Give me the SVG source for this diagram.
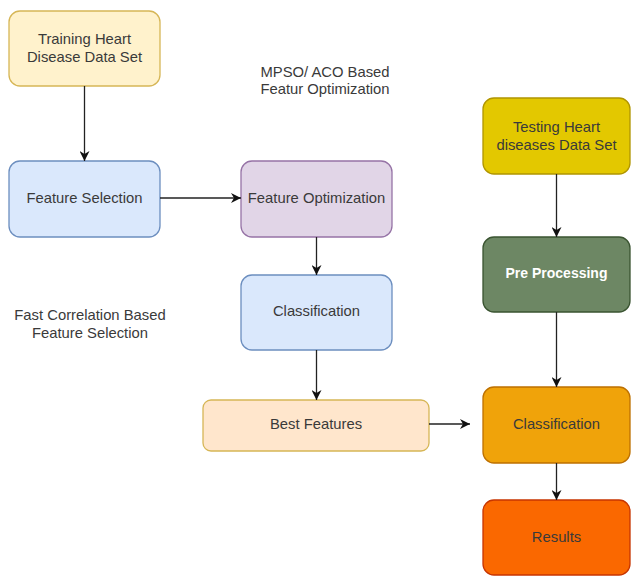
<svg xmlns="http://www.w3.org/2000/svg" width="631" height="576" viewBox="0 0 631 576">
<defs>
<marker id="ah" viewBox="0 0 10 10" refX="10" refY="5" markerWidth="10" markerHeight="10" markerUnits="userSpaceOnUse" orient="auto">
<path d="M0,0 L10,5 L0,10 L3,5 Z" fill="#111"/>
</marker>
<style>
text{font-family:"Liberation Sans",Arial,sans-serif;font-size:14.8px;fill:#3a3a3a;text-anchor:middle;dominant-baseline:central}
.n rect{stroke-width:1.3}
.c line{stroke:#222;stroke-width:1.3;marker-end:url(#ah)}
</style>
</defs>
<rect width="631" height="576" fill="#fff"/>
<g id="training" class="n"><rect x="9" y="11" width="151" height="75" rx="11" fill="#fff2cc" stroke="#d6b656"/><text x="84.5" y="39">Training Heart</text><text x="84.5" y="57">Disease Data Set</text></g>
<g id="featsel" class="n"><rect x="9" y="161" width="151" height="76" rx="11" fill="#dae8fc" stroke="#6c8ebf"/><text x="84.5" y="198">Feature Selection</text></g>
<g id="featopt" class="n"><rect x="241" y="161" width="151" height="76" rx="11" fill="#e1d5e7" stroke="#9673a6"/><text x="316.5" y="198">Feature Optimization</text></g>
<g id="class1" class="n"><rect x="241" y="275" width="151" height="75" rx="11" fill="#dae8fc" stroke="#6c8ebf"/><text x="316.5" y="311">Classification</text></g>
<g id="best" class="n"><rect x="203" y="400" width="226" height="51" rx="8" fill="#ffe6cc" stroke="#d6b656"/><text x="316" y="424">Best Features</text></g>
<g id="testing" class="n"><rect x="483" y="98" width="147" height="76" rx="11" fill="#e3c800" stroke="#b09500"/><text x="556.5" y="127">Testing Heart</text><text x="556.5" y="145">diseases Data Set</text></g>
<g id="preproc" class="n"><rect x="483" y="237" width="147" height="75" rx="11" fill="#6d8764" stroke="#3a5431"/><text x="556.5" y="273" style="fill:#fff;font-weight:bold;font-size:14px">Pre Processing</text></g>
<g id="class2" class="n"><rect x="483" y="387" width="147" height="76" rx="11" fill="#f0a30a" stroke="#bd7000"/><text x="556.5" y="424">Classification</text></g>
<g id="results" class="n"><rect x="483" y="500" width="147" height="75" rx="11" fill="#fa6800" stroke="#c73500"/><text x="556.5" y="537">Results</text></g>
<g id="label-mpso"><text x="325" y="72">MPSO/ ACO Based</text><text x="325" y="89">Featur Optimization</text></g>
<g id="label-fcbf"><text x="90" y="315">Fast Correlation Based</text><text x="90" y="333">Feature Selection</text></g>
<g id="connectors" class="c">
<line x1="84.5" y1="86" x2="84.5" y2="161"/>
<line x1="160" y1="198" x2="241" y2="198"/>
<line x1="316.5" y1="237" x2="316.5" y2="275"/>
<line x1="316.5" y1="350" x2="316.5" y2="400"/>
<line x1="429" y1="424" x2="470" y2="424"/>
<line x1="556.5" y1="174" x2="556.5" y2="237"/>
<line x1="556.5" y1="312" x2="556.5" y2="387"/>
<line x1="556.5" y1="463" x2="556.5" y2="500"/>
</g>
</svg>
